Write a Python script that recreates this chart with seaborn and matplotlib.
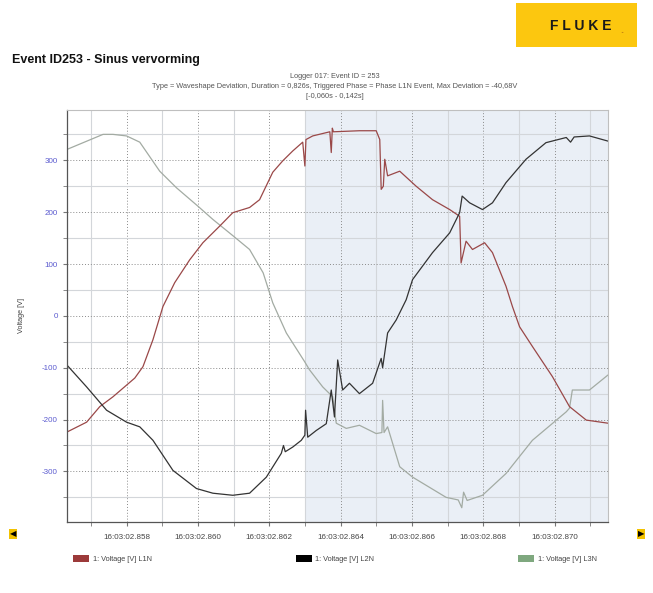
import numpy as np
import pandas as pd
import matplotlib
matplotlib.use("Agg")
import matplotlib.pyplot as plt
from matplotlib.patches import Patch, Rectangle
from matplotlib.ticker import MultipleLocator, FuncFormatter
import seaborn as sns

# time in ms after 16:03:02.000, voltage in V
t_l1 = [856.33, 856.88, 857.25, 857.62, 858.23, 858.46, 858.74, 859.02, 859.35, 859.77,
        860.14, 860.61, 860.98, 861.45, 861.73, 862.10, 862.38, 862.66, 862.94, 863.00,
        863.03, 863.22, 863.70, 863.74, 863.77, 863.80, 864.53, 865.00, 865.10, 865.14,
        865.20, 865.24, 865.32, 865.66, 866.12, 866.58, 867.06, 867.34, 867.38, 867.52,
        867.70, 868.04, 868.26, 868.64, 868.82, 869.02, 869.38, 869.94, 870.42, 870.89, 871.50]
v_l1 = [-224, -205, -175, -156, -120, -98, -46, 18, 64, 108,
        141, 173, 199, 209, 224, 277, 299, 318, 335, 289,
        340, 347, 355, 315, 362, 355, 357, 357, 340, 244,
        250, 302, 270, 279, 250, 224, 205, 192, 102, 144,
        128, 141, 122, 57, 18, -21, -59, -117, -175, -201, -207]

t_l2 = [856.33, 856.88, 857.44, 858.00, 858.37, 858.74, 859.30, 859.96, 860.42, 860.98,
        861.45, 861.92, 862.34, 862.40, 862.45, 862.66, 862.90, 863.00, 863.02, 863.08,
        863.32, 863.60, 863.74, 863.83, 863.92, 864.06, 864.25, 864.53, 864.90, 865.14,
        865.18, 865.32, 865.56, 865.84, 866.02, 866.58, 867.06, 867.34, 867.41, 867.62,
        867.98, 868.26, 868.64, 869.20, 869.76, 870.33, 870.45, 870.55, 870.98, 871.50]
v_l2 = [-95, -137, -182, -205, -214, -240, -298, -333, -342, -346,
        -342, -311, -265, -250, -262, -253, -240, -230, -182, -234,
        -221, -208, -143, -195, -85, -143, -130, -150, -130, -82,
        -100, -33, -8, 31, 70, 122, 160, 199, 231, 218,
        205, 218, 257, 302, 334, 344, 335, 345, 347, 337]

t_l3 = [856.33, 857.34, 857.62, 858.00, 858.37, 858.93, 859.40, 860.01, 860.42, 861.01,
        861.45, 861.83, 862.10, 862.48, 862.99, 863.13, 863.50, 863.78, 863.88, 864.16,
        864.53, 865.00, 865.16, 865.18, 865.22, 865.32, 865.66, 866.02, 866.96, 867.30,
        867.40, 867.45, 867.55, 867.98, 868.64, 869.38, 870.33, 870.42, 870.50, 870.98, 871.50]
v_l3 = [321, 350, 350, 347, 335, 279, 247, 211, 186, 153,
        128, 83, 25, -33, -88, -104, -137, -156, -207, -217,
        -211, -227, -225, -163, -225, -214, -291, -311, -350, -355,
        -370, -340, -356, -346, -304, -240, -185, -178, -143, -143, -114]

series_names = ["1: Voltage [V] L1N", "1: Voltage [V] L2N", "1: Voltage [V] L3N"]
line_colors = ["#9a4848", "#333333", "#a3aba3"]
legend_colors = ["#9c3a3a", "#000000", "#7fa87f"]

df = pd.concat([
    pd.DataFrame({"t": t_l1, "v": v_l1, "phase": series_names[0]}),
    pd.DataFrame({"t": t_l2, "v": v_l2, "phase": series_names[1]}),
    pd.DataFrame({"t": t_l3, "v": v_l3, "phase": series_names[2]}),
])

sns.set_style("white")
plt.rcParams["font.family"] = ["Liberation Sans", "DejaVu Sans"]

fig = plt.figure(figsize=(6.53, 5.93), dpi=100)
ax = fig.add_axes([0.1026, 0.1202, 0.8285, 0.6943])

# trigger window shading
ax.axvspan(863.03, 871.6, color="#eaeff6", zorder=0)

sns.lineplot(data=df, x="t", y="v", hue="phase", palette=dict(zip(series_names, line_colors)),
             hue_order=[series_names[2], series_names[0], series_names[1]],
             estimator=None, sort=False, linewidth=0.9, legend=False, ax=ax)

ax.set_xlim(856.33, 871.5)
ax.set_ylim(-397, 397)
ax.xaxis.set_major_locator(MultipleLocator(2, offset=0))
ax.xaxis.set_minor_locator(MultipleLocator(1))
ax.yaxis.set_major_locator(MultipleLocator(100))
ax.yaxis.set_minor_locator(MultipleLocator(50))
ax.xaxis.set_major_formatter(FuncFormatter(lambda x, p: "16:03:02.%03d" % round(x)))
ax.yaxis.set_major_formatter(FuncFormatter(lambda y, p: "%d" % y))

ax.grid(which="minor", color="#d3d6da", linewidth=0.8, linestyle="-")
ax.grid(which="major", color="#8a8a8a", linewidth=0.7, linestyle=(0, (1, 2)))
ax.set_axisbelow(True)

ax.tick_params(axis="x", which="both", direction="out", length=3, color="#777777",
               labelsize=5.8, labelcolor="#444444", pad=6, bottom=True)
ax.tick_params(axis="y", which="both", direction="out", length=3, color="#777777",
               labelsize=5.8, labelcolor="#5a5acf", left=True)
ax.set_xlabel("")
ax.set_ylabel("Voltage [V]", fontsize=5.2, color="#444444", labelpad=12)

for side in ["left", "bottom"]:
    ax.spines[side].set_color("#555555")
    ax.spines[side].set_linewidth(0.9)
for side in ["top", "right"]:
    ax.spines[side].set_color("#bfbfbf")
    ax.spines[side].set_linewidth(0.8)

# header texts
fig.text(12 / 653, 1 - 60 / 593, "Event ID253 - Sinus vervorming", fontsize=9,
         fontweight="bold", ha="left", va="center", color="#111111")
fig.text(335 / 653, 1 - 76 / 593, "Logger 017: Event ID = 253", fontsize=5.3,
         ha="center", va="center", color="#555555")
fig.text(335 / 653, 1 - 87 / 593,
         "Type = Waveshape Deviation, Duration = 0,826s, Triggered Phase = Phase L1N Event, Max Deviation = -40,68V",
         fontsize=5.3, ha="center", va="center", color="#555555")
fig.text(335 / 653, 1 - 97 / 593, "[-0,060s - 0,142s]", fontsize=5.3,
         ha="center", va="center", color="#555555")

# Fluke logo block
fig.patches.append(Rectangle((516 / 653, 1 - 47 / 593), 121 / 653, 44 / 593,
                             transform=fig.transFigure, facecolor="#fcc70f", edgecolor="none"))
fig.text(581 / 653, 1 - 26 / 593, "F L U K E", fontsize=10, fontweight="bold",
         ha="center", va="center", color="#1a1a1a")
fig.text(622 / 653, 1 - 30 / 593, ".", fontsize=8, fontweight="bold",
         ha="center", va="center", color="#c98a10")

# navigation arrows
fig.text(13 / 653, 1 - 534 / 593, "◀", fontsize=6, ha="center", va="center", color="black",
         family="DejaVu Sans", bbox=dict(facecolor="#f2c200", edgecolor="none", pad=0.6))
fig.text(641 / 653, 1 - 534 / 593, "▶", fontsize=6, ha="center", va="center", color="black",
         family="DejaVu Sans", bbox=dict(facecolor="#f2c200", edgecolor="none", pad=0.6))

# legend
handles = [Patch(facecolor=c, edgecolor="none") for c in legend_colors]
fig.legend(handles, series_names, loc="lower left", ncol=3, mode="expand",
           bbox_to_anchor=(70 / 653, 1 - 566 / 593, 530 / 653, 16 / 593),
           frameon=False, fontsize=5.3, handlelength=2.2, handleheight=1.0,
           handletextpad=0.5, labelcolor="#444444", borderaxespad=0)

fig.savefig("out.png", dpi=100)
